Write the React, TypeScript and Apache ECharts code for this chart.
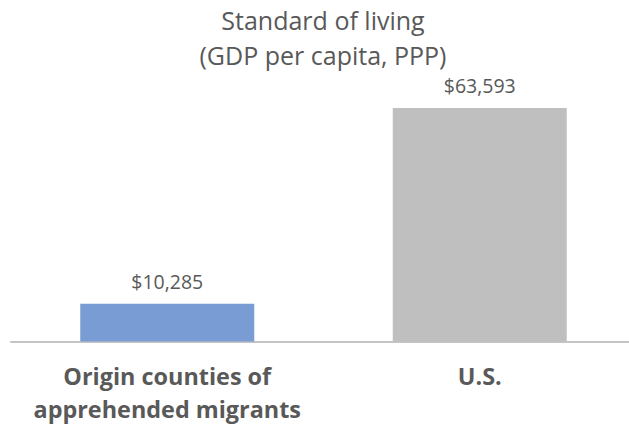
import React, { useEffect, useRef } from "react";
import * as echarts from "echarts";

const categories = ["Origin counties of\napprehended migrants", "U.S."];
const values = [10285, 63593];
const barColors = ["#7A9CD4", "#BFBFBF"];
const titleText = "Standard of living\n(GDP per capita, PPP)";

export default function App() {
  const ref = useRef<HTMLDivElement>(null);
  useEffect(() => {
    if (!ref.current) return;
    const chart = echarts.init(ref.current, null, { renderer: "svg" });
    chart.setOption({
      animation: false,
      backgroundColor: "#ffffff",
      title: {
        text: titleText,
        left: 323,
        textAlign: "center",
        top: 3,
        padding: 0,
        textStyle: {
          fontFamily: "Open Sans",
          fontSize: 25,
          fontWeight: "normal",
          color: "#595959",
          lineHeight: 34.5,
        },
      },
      grid: {
        left: 11,
        width: 625,
        top: 108,
        bottom: 87.5,
        containLabel: false,
        outerBoundsMode: "none",
      },
      xAxis: {
        type: "category",
        data: categories,
        axisLine: { show: true, lineStyle: { color: "#C4C4C4", width: 2 } },
        axisTick: { show: false },
        axisLabel: {
          interval: 0,
          margin: 18,
          fontFamily: "Open Sans",
          fontSize: 23.4,
          fontWeight: "bold",
          color: "#595959",
          lineHeight: 33,
        },
      },
      yAxis: {
        type: "value",
        min: 0,
        max: 63593,
        show: false,
        splitLine: { show: false },
      },
      series: [
        {
          type: "bar",
          barWidth: 174,
          data: values.map((v, i) => ({ value: v, itemStyle: { color: barColors[i] } })),
          label: {
            show: true,
            position: "top",
            distance: 12.5,
            fontFamily: "Open Sans",
            fontSize: 19.5,
            color: "#595959",
            formatter: (p: any) => "$" + Number(p.value).toLocaleString("en-US"),
          },
        },
      ],
    });
    return () => chart.dispose();
  }, []);
  return (
    <div
      ref={ref}
      style={{ position: "fixed", left: 0, top: 0, width: 629, height: 429 }}
    />
  );
}
